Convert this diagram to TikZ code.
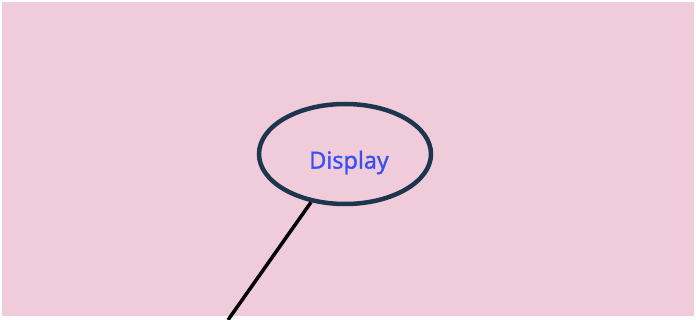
\documentclass[tikz,border=0pt]{standalone}
\usepackage{fontspec}
\setmainfont{Open Sans}
\newfontfamily\labelfont{Open Sans}[FakeBold=1.6]
\usetikzlibrary{shapes.geometric}
\definecolor{bgpink}{HTML}{F0CCDA}
\definecolor{navy}{HTML}{1E3550}
\definecolor{txtblue}{HTML}{3650F2}
\tikzset{
  ellnode/.style={ellipse, draw=navy, line width=4.5pt, minimum width=172pt, minimum height=100pt, inner sep=0pt},
  lbltext/.style={text=txtblue, font=\labelfont\fontsize{23.5}{27}\selectfont, inner sep=0pt},
  link/.style={draw=black, line width=3.5pt}
}
\begin{document}
\begin{tikzpicture}[x=1pt,y=-1pt]
\useasboundingbox (0,0) rectangle (696,320);
\fill[white] (0,0) rectangle (696,320);
\fill[bgpink] (2,2) rectangle (694,316);
\node[ellnode] (disp) at (345,154) {};
\node[lbltext] (lbl) at (349,162.5) {Display};
\coordinate (tail) at (228,320);
\draw[link] (disp) -- (tail);
\end{tikzpicture}
\end{document}
